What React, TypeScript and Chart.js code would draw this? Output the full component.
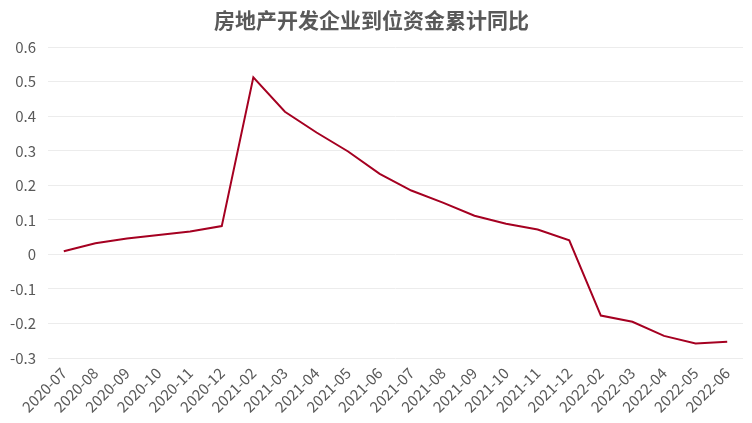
import React, { useEffect, useRef } from "react";
import { Chart, registerables } from "chart.js";

Chart.register(...registerables);

const categories = [
  "2020-07", "2020-08", "2020-09", "2020-10", "2020-11", "2020-12",
  "2021-02", "2021-03", "2021-04", "2021-05", "2021-06", "2021-07",
  "2021-08", "2021-09", "2021-10", "2021-11", "2021-12",
  "2022-02", "2022-03", "2022-04", "2022-05", "2022-06",
];

const yoyValues = [
  0.009, 0.032, 0.046, 0.056, 0.066, 0.082,
  0.513, 0.413, 0.353, 0.298, 0.233, 0.185,
  0.150, 0.112, 0.089, 0.072, 0.041,
  -0.177, -0.195, -0.236, -0.258, -0.253,
];

const titleText = "房地产开发企业到位资金累计同比";
const FONT = "'Noto Sans CJK SC', 'Noto Sans', sans-serif";

export default function App() {
  const ref = useRef<HTMLCanvasElement | null>(null);
  useEffect(() => {
    document.body.style.margin = "0";
    if (!ref.current) return;
    const chart = new Chart(ref.current, {
      type: "line",
      data: {
        labels: categories,
        datasets: [
          {
            label: titleText,
            data: yoyValues,
            borderColor: "#A50021",
            backgroundColor: "#A50021",
            borderWidth: 2,
            pointRadius: 0,
            tension: 0,
          },
        ],
      },
      options: {
        responsive: false,
        animation: false,
        layout: { padding: { left: 0, right: 9, top: 0, bottom: 0 } },
        plugins: {
          legend: { display: false },
          tooltip: { enabled: false },
          title: {
            display: true,
            text: titleText,
            color: "#595959",
            font: { family: FONT, size: 21, weight: "bold" },
            padding: { top: 7, bottom: 15 },
          },
        },
        scales: {
          x: {
            type: "category",
            offset: true,
            grid: { display: false, drawTicks: false },
            border: { display: false },
            ticks: {
              color: "#595959",
              font: { family: FONT, size: 15 },
              maxRotation: 45,
              minRotation: 45,
              autoSkip: false,
              padding: 6,
            },
            afterFit: (scale: any) => {
              scale.height = 65;
            },
          },
          y: {
            min: -0.3,
            max: 0.6,
            grid: { color: "#ececec", drawTicks: false, lineWidth: 1 },
            border: { display: false },
            ticks: {
              stepSize: 0.1,
              color: "#595959",
              font: { family: FONT, size: 15 },
              padding: 12,
              callback: (v: any) => {
                const n = Number(Number(v).toFixed(1));
                return n === 0 ? "0" : n.toFixed(1);
              },
            },
            afterFit: (scale: any) => {
              scale.width = 48;
            },
          },
        },
      },
    });
    return () => chart.destroy();
  }, []);
  return (
    <div style={{ width: 752, height: 423 }}>
      <canvas ref={ref} width={752} height={423} />
    </div>
  );
}
